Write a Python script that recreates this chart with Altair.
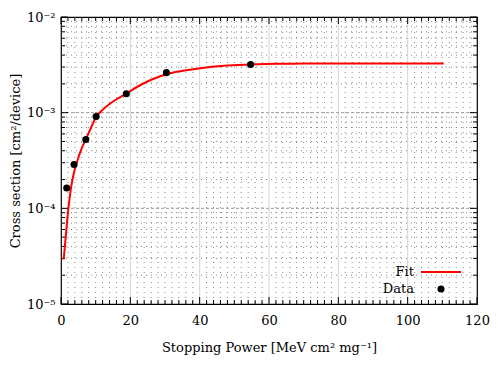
import altair as alt
import pandas as pd

# ---- data ----
data_x = [1.65, 3.77, 7.16, 10.14, 18.84, 30.4, 54.7]
data_y = [1.63e-4, 2.87e-4, 5.24e-4, 9.1e-4, 1.58e-3, 2.62e-3, 3.19e-3]

fit_x = [0.78, 1.45, 2.14, 3.1, 4.0, 5.0, 6.0, 7.16, 8.5, 10.14, 12.0, 14.0, 16.0,
         18.84, 23.2, 28.6, 30.4, 34.0, 40.2, 47.0, 54.7, 62.0, 70.0, 80.0, 95.0, 110.4]
fit_y = [2.92e-5, 5.50e-5, 1.00e-4, 1.82e-4, 2.57e-4, 3.39e-4, 4.27e-4, 5.25e-4, 6.76e-4,
         9.02e-4, 1.07e-3, 1.23e-3, 1.38e-3, 1.585e-3, 1.97e-3, 2.40e-3, 2.52e-3, 2.70e-3,
         2.92e-3, 3.09e-3, 3.18e-3, 3.24e-3, 3.26e-3, 3.27e-3, 3.27e-3, 3.27e-3]

x_major = [0, 20, 40, 60, 80, 100, 120]
x_minor = [v for v in range(0, 121, 2) if v % 20 != 0]
y_major = [1e-5, 1e-4, 1e-3, 1e-2]
y_minor = [m * d for d in [1e-5, 1e-4, 1e-3] for m in range(2, 10)]
legend_labels = ["Fit", "Data"]

W, H = 416, 287
FONT = "DejaVu Serif"

xs = alt.Scale(domain=[0, 120], nice=False, zero=False)
ys = alt.Scale(type="log", domain=[1e-5, 1e-2], nice=False)

X_AXIS = alt.Axis(
    values=x_major, ticks=False, domain=False, grid=False, labelPadding=10, labelFlush=False,
    labelFont=FONT, labelFontSize=13, labelColor="black",
    title="Stopping Power [MeV cm² mg⁻¹]", titleFont=FONT, titleFontSize=13,
    titleFontWeight="normal", titleColor="black", titlePadding=14)
Y_AXIS = alt.Axis(
    values=y_major, ticks=False, domain=False, grid=False, labelPadding=6, labelFlush=False,
    labelFont=FONT, labelFontSize=13, labelColor="black",
    labelExpr="datum.value < 5e-5 ? '10⁻⁵' : datum.value < 5e-4 ? '10⁻⁴' : datum.value < 5e-3 ? '10⁻³' : '10⁻²'",
    title="Cross section [cm²/device]", titleFont=FONT, titleFontSize=13,
    titleFontWeight="normal", titleColor="black", titlePadding=4)

df_data = pd.DataFrame({"x": data_x, "y": data_y})
df_fit = pd.DataFrame({"x": fit_x, "y": fit_y})
df_xmaj = pd.DataFrame({"x": x_major})
df_xgrid = pd.DataFrame({"x": x_major[1:-1]})
df_xmin = pd.DataFrame({"x": x_minor})
df_ymaj = pd.DataFrame({"y": y_major})
df_ygrid = pd.DataFrame({"y": y_major[1:-1]})
df_ymin = pd.DataFrame({"y": y_minor})

xq = lambda: alt.X("x:Q", scale=xs, axis=X_AXIS, title="Stopping Power [MeV cm² mg⁻¹]")
yq = lambda: alt.Y("y:Q", scale=ys, axis=Y_AXIS, title="Cross section [cm²/device]")

# grid
g_xmin = alt.Chart(df_xmin).mark_rule(color="#8a8a8a", strokeDash=[1, 4], strokeWidth=1).encode(
    x=xq(), y=alt.value(0), y2=alt.value(H))
g_xmaj = alt.Chart(df_xgrid).mark_rule(color="#d4d4d4", strokeWidth=1).encode(
    x=xq(), y=alt.value(0), y2=alt.value(H))
g_ymin = alt.Chart(df_ymin).mark_rule(color="#8a8a8a", strokeDash=[1, 4], strokeWidth=1).encode(
    y=yq(), x=alt.value(0), x2=alt.value(W))
g_ymaj = alt.Chart(df_ygrid).mark_rule(color="#999999", strokeDash=[3, 2], strokeWidth=1).encode(
    y=yq(), x=alt.value(0), x2=alt.value(W))

# inward ticks
def xticks(df, L):
    b = alt.Chart(df).mark_rule(color="black").encode(x=xq(), y=alt.value(H), y2=alt.value(H - L))
    t = alt.Chart(df).mark_rule(color="black").encode(x=xq(), y=alt.value(0), y2=alt.value(L))
    return b + t

def yticks(df, L):
    l = alt.Chart(df).mark_rule(color="black").encode(y=yq(), x=alt.value(0), x2=alt.value(L))
    r = alt.Chart(df).mark_rule(color="black").encode(y=yq(), x=alt.value(W), x2=alt.value(W - L))
    return l + r

ticks = xticks(df_xmaj, 7) + xticks(df_xmin, 4) + yticks(df_ymaj, 7) + yticks(df_ymin, 4)

fit = alt.Chart(df_fit).mark_line(color="#ff0000", strokeWidth=2, interpolate="monotone").encode(
    x=xq(), y=yq())
pts = alt.Chart(df_data).mark_circle(color="black", opacity=1, size=50).encode(x=xq(), y=yq())

# legend (inside lower right)
df_fitlab = pd.DataFrame({"label": [legend_labels[0]]})
df_datlab = pd.DataFrame({"label": [legend_labels[1]]})
leg_fit_t = alt.Chart(df_fitlab).mark_text(align="right", baseline="middle", font=FONT,
                                           fontSize=13, color="black").encode(
    text="label:N", x=alt.value(353), y=alt.value(255))
leg_dat_t = alt.Chart(df_datlab).mark_text(align="right", baseline="middle", font=FONT,
                                           fontSize=13, color="black").encode(
    text="label:N", x=alt.value(353), y=alt.value(272))
leg_line = alt.Chart(df_fitlab).mark_rule(color="#ff0000", strokeWidth=2).encode(
    x=alt.value(360), x2=alt.value(400), y=alt.value(255))
leg_pt = alt.Chart(df_datlab).mark_circle(color="black", opacity=1, size=50).encode(
    x=alt.value(380), y=alt.value(272))

chart = alt.layer(
    g_xmin, g_ymin, g_xmaj, g_ymaj, ticks, fit, pts, leg_fit_t, leg_dat_t, leg_line, leg_pt
).properties(
    width=W, height=H,
    autosize=alt.AutoSizeParams(type="none"),
    padding={"left": 53, "top": 9, "right": 15, "bottom": 55},
    background="white",
).configure_view(stroke="black", strokeWidth=1.2)

chart.save("out.html", embed_options={"renderer": "svg", "actions": False})
